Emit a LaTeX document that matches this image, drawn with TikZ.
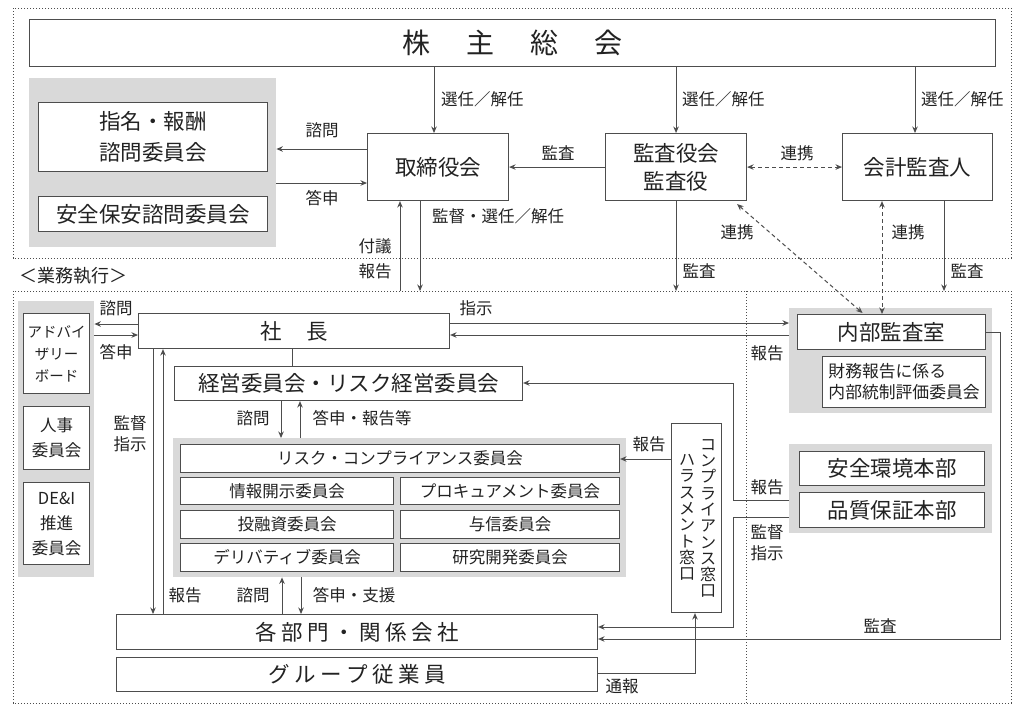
\documentclass[tikz,border=0pt]{standalone}
\usepackage{fontspec}
\setmainfont{Noto Sans CJK JP}
\usetikzlibrary{arrows.meta,calc}
\definecolor{ln}{HTML}{4D4D4D}
\definecolor{panel}{HTML}{D9D9D9}
\definecolor{tx}{HTML}{222222}
\tikzset{
  box/.style={draw=ln, line width=1.1pt, fill=white, inner sep=0pt, anchor=north west, text=tx},
  panelbox/.style={fill=panel, draw=none, inner sep=0pt, anchor=north west},
  tipa/.tip={Stealth[length=6.5pt,width=5.5pt]},
  arr/.style={draw=ln, line width=1pt, -tipa},
  darr/.style={draw=ln, line width=1pt, dash pattern=on 4pt off 3pt, tipa-tipa},
  plain/.style={draw=ln, line width=1pt},
  dotline/.style={draw=ln, line width=1pt, dash pattern=on 1.2pt off 1.8pt},
  lbl/.style={font=\fontsize{16.5}{21}\selectfont, text=tx, inner sep=0pt, align=center},
  big/.style={font=\fontsize{21.5}{31}\selectfont, align=center},
  small/.style={font=\fontsize{16.5}{21}\selectfont, align=center},
  vt/.style={font=\fontsize{16}{16.3}\selectfont, text=tx, inner sep=0pt, align=center},
}
\begin{document}
\begin{tikzpicture}[x=1pt,y=-1pt]
\useasboundingbox (0,0) rectangle (1024,718);
\fill[white] (0,0) rectangle (1024,718);

% frames
\draw[dotline] (13,8) rectangle (1011,258);
\draw[dotline] (13,291) rectangle (1011,703);
\draw[dotline] (746,291) -- (746,703);
\node[lbl, font=\fontsize{18}{22}\selectfont] (gyomu) at (73,276) {＜業務執行＞};

% panels
\node[panelbox, minimum width=247, minimum height=169] (gray1) at (29,78) {};
\node[panelbox, minimum width=76, minimum height=276] (gray2) at (18,301) {};
\node[panelbox, minimum width=453, minimum height=139] (gray3) at (173,438) {};
\node[panelbox, minimum width=203, minimum height=105] (gray4) at (789,308) {};
\node[panelbox, minimum width=203, minimum height=89] (gray5) at (789,444) {};

% governance boxes
\node[box, minimum width=966, minimum height=47, font=\fontsize{28}{34}\selectfont] (sh) at (29,19) {株\hspace{36pt}主\hspace{36pt}総\hspace{36pt}会};
\node[box, big, minimum width=229, minimum height=69] (shimei) at (38,102) {指名・報酬\\諮問委員会};
\node[box, big, minimum width=229, minimum height=35] (anzen) at (38,196) {安全保安諮問委員会};
\node[box, big, minimum width=141, minimum height=67] (tori) at (367,133) {取締役会};
\node[box, big, font=\fontsize{21.5}{28}\selectfont, minimum width=141, minimum height=67] (kansa) at (605,133) {監査役会\\監査役};
\node[box, big, minimum width=150, minimum height=67] (kaikei) at (842,133) {会計監査人};

% execution boxes
\node[box, font=\fontsize{14.5}{22}\selectfont, align=center, minimum width=66, minimum height=80] (adv) at (23,313) {アドバイ\\ザリー\\ボード};
\node[box, font=\fontsize{16.5}{25}\selectfont, align=center, minimum width=66, minimum height=63] (jinji) at (23,406) {人事\\委員会};
\node[box, font=\fontsize{16.5}{25}\selectfont, align=center, minimum width=66, minimum height=82] (dei) at (23,482) {DE\&I\\推進\\委員会};
\node[box, big, minimum width=311, minimum height=35] (shacho) at (138,313) {社\hspace{25pt}長};
\node[box, big, minimum width=348, minimum height=34] (keiei) at (174,366) {経営委員会・リスク経営委員会};
\node[box, small, minimum width=439, minimum height=28] (risk) at (180,444) {リスク・コンプライアンス委員会};
\node[box, small, minimum width=213, minimum height=27] (joho) at (180,477) {情報開示委員会};
\node[box, small, minimum width=219, minimum height=27] (proc) at (400,477) {プロキュアメント委員会};
\node[box, small, minimum width=213, minimum height=28] (toyu) at (180,510) {投融資委員会};
\node[box, small, minimum width=219, minimum height=28] (yoshin) at (400,510) {与信委員会};
\node[box, small, minimum width=213, minimum height=28] (deri) at (180,543) {デリバティブ委員会};
\node[box, small, minimum width=219, minimum height=28] (kenkyu) at (400,543) {研究開発委員会};
\node[box, big, minimum width=481, minimum height=35] (kakubu) at (116,614) {各\hspace{4.5pt}部\hspace{4.5pt}門\hspace{4.5pt}・\hspace{4.5pt}関\hspace{4.5pt}係\hspace{4.5pt}会\hspace{4.5pt}社};
\node[box, big, minimum width=481, minimum height=34] (group) at (116,657) {グ\hspace{4.5pt}ル\hspace{4.5pt}ー\hspace{4.5pt}プ\hspace{4.5pt}従\hspace{4.5pt}業\hspace{4.5pt}員};
\node[box, minimum width=50, minimum height=189] (comp) at (671,423) {};
\node[vt] (ct1) at (708,518.5) {コ\\ン\\プ\\ラ\\イ\\ア\\ン\\ス\\窓\\口};
\node[vt] (ct2) at (687,517.5) {ハ\\ラ\\ス\\メ\\ン\\ト\\窓\\口};
\node[box, big, minimum width=188, minimum height=35] (naibu) at (797,314) {内部監査室};
\node[box, font=\fontsize{16.8}{21}\selectfont, align=left, minimum width=163, minimum height=51] (zaimu) at (822,356) {財務報告に係る\\内部統制評価委員会};
\node[box, big, minimum width=185, minimum height=34] (anzenk) at (799,451) {安全環境本部};
\node[box, big, minimum width=185, minimum height=35] (hinshitsu) at (799,492) {品質保証本部};

% free ends on the execution frame
\coordinate (e1) at (420,291);
\coordinate (e2) at (400,291);
\coordinate (e3) at (676,291);
\coordinate (e4) at (944,291);

% top connectors
\draw[arr] (sh.south -| 434,0) -- (tori.north -| 434,0);
\draw[arr] (sh.south -| kansa.north) -- (kansa.north);
\draw[arr] (sh.south -| 915,0) -- (kaikei.north -| 915,0);
\draw[arr] (tori.west |- 0,149) -- (gray1.east |- 0,149);
\draw[arr] (gray1.east |- 0,183) -- (tori.west |- 0,183);
\draw[arr] (kansa.west) -- (tori.east);
\draw[darr] (kansa.east) -- (kaikei.west);
\draw[arr] (tori.south -| e1) -- (e1);
\draw[arr] (e2) -- (tori.south -| e2);
\draw[arr] (kansa.south) -- (kansa.south |- e3);
\draw[arr] (kaikei.south -| e4) -- (e4);
\draw[darr] ($(kansa.south east)+(-10,3)$) -- ($(naibu.north)+(-29,-1)$);
\draw[darr] (kaikei.south -| 882,0) -- (naibu.north -| 882,0);

% execution connectors
\draw[arr] (shacho.west |- 0,324) -- (gray2.east |- 0,324);
\draw[arr] (gray2.east |- 0,335) -- (shacho.west |- 0,335);
\draw[arr] (shacho.east |- 0,323) -- (gray4.west |- 0,323);
\draw[arr] (gray4.west |- 0,335) -- (shacho.east |- 0,335);
\draw[plain] (shacho.south -| 292,0) -- (keiei.north -| 292,0);
\draw[arr] (keiei.south -| 281,0) -- (gray3.north -| 281,0);
\draw[arr] (gray3.north -| 300,0) -- (keiei.south -| 300,0);
\draw[arr] (kakubu.north -| 282,0) -- (gray3.south -| 282,0);
\draw[arr] (gray3.south -| 301,0) -- (kakubu.north -| 301,0);
\draw[arr] (shacho.south -| 153,0) -- (kakubu.north -| 153,0);
\draw[arr] (kakubu.north -| 163,0) -- (shacho.south -| 163,0);
\draw[arr] (comp.west |- 0,459) -- (risk.east |- 0,459);
\draw[arr] (group.east |- 0,673) -| (comp.south -| 695,0);
\draw[arr] (gray5.west |- 0,500) -- (733,500) |- (keiei.east |- 0,383);
\draw[arr] (gray5.west |- 0,517) -- (733,517) |- (kakubu.east |- 0,627);
\draw[arr] (naibu.east) -- (1000,0 |- naibu.east) |- (kakubu.east |- 0,639);

% labels
\node[lbl, anchor=west] (l1) at (441,99) {選任／解任};
\node[lbl, anchor=west] (l2) at (682,99) {選任／解任};
\node[lbl, anchor=west] (l3) at (921,99) {選任／解任};
\node[lbl] (l4) at (322,130) {諮問};
\node[lbl] (l5) at (322,198) {答申};
\node[lbl] (l6) at (558,153) {監査};
\node[lbl] (l7) at (797,153) {連携};
\node[lbl, anchor=west] (l8) at (432,216) {監督・選任／解任};
\node[lbl] (l9) at (375,246) {付議};
\node[lbl] (l10) at (375,271) {報告};
\node[lbl] (l11) at (737,232) {連携};
\node[lbl] (l12) at (908,232) {連携};
\node[lbl] (l13) at (699,271) {監査};
\node[lbl] (l14) at (967,271) {監査};
\node[lbl] (l15) at (116,308) {諮問};
\node[lbl] (l16) at (116,352) {答申};
\node[lbl] (l17) at (476,308) {指示};
\node[lbl] (l18) at (767,353) {報告};
\node[lbl] (l19) at (130,434) {監督\\指示};
\node[lbl] (l20) at (253,418) {諮問};
\node[lbl] (l21) at (362,418) {答申・報告等};
\node[lbl] (l22) at (185,595) {報告};
\node[lbl] (l23) at (253,595) {諮問};
\node[lbl] (l24) at (354,595) {答申・支援};
\node[lbl] (l25) at (649,444) {報告};
\node[lbl] (l26) at (767,487) {報告};
\node[lbl] (l27) at (767,543) {監督\\指示};
\node[lbl] (l28) at (880,626) {監査};
\node[lbl] (l29) at (622,686) {通報};
\end{tikzpicture}
\end{document}
